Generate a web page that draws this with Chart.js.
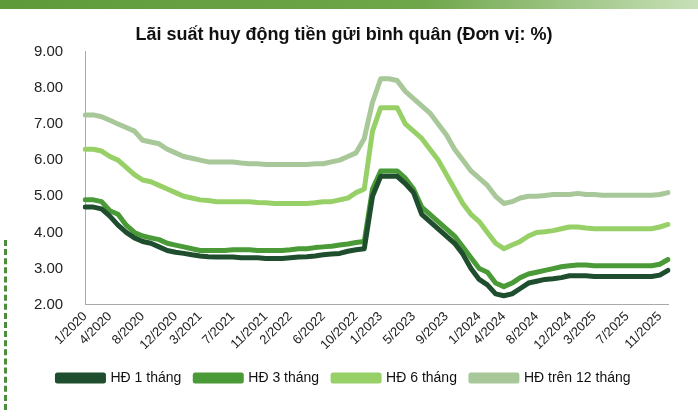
<!DOCTYPE html>
<html><head><meta charset="utf-8">
<script src="https://cdn.jsdelivr.net/npm/chart.js@4"></script>
<style>
body{margin:0;width:698px;height:419px;background:#fff;overflow:hidden;position:relative;font-family:Arial,"Liberation Sans",sans-serif}
#bar{position:absolute;left:0;top:0;width:698px;height:9px;background:linear-gradient(90deg,#5e9a3a,#6ea64a 60%,#c8e0b8)}
#dash{position:absolute;left:4px;top:240px;height:170px;border-left:3px dashed #4c8c3c}
#wrap{position:absolute;left:0;top:22px;width:698px;height:397px}
</style></head><body>
<div id="bar"></div><div id="dash"></div>
<div id="wrap"><canvas id="c"></canvas></div>
<script>
const months=[];for(let y=2020;y<=2025;y++)for(let m=1;m<=12;m++)months.push(m+'/'+y);
const tickLabels=['1/2020','4/2020','8/2020','12/2020','3/2021','7/2021','11/2021','2/2022','6/2022','10/2022','1/2023','5/2023','9/2023','1/2024','4/2024','8/2024','12/2024','3/2025','7/2025','11/2025'];
const hd1=[4.7,4.7,4.65,4.45,4.2,4.0,3.85,3.75,3.7,3.6,3.5,3.45,
3.42,3.38,3.35,3.33,3.32,3.32,3.32,3.3,3.3,3.3,3.28,3.28,
3.28,3.3,3.32,3.33,3.35,3.38,3.4,3.42,3.48,3.52,3.55,5.0,
5.55,5.55,5.55,5.35,5.1,4.5,4.3,4.1,3.9,3.7,3.4,3.0,
2.7,2.55,2.3,2.25,2.3,2.45,2.6,2.65,2.7,2.72,2.75,2.8,
2.8,2.8,2.78,2.78,2.78,2.78,2.78,2.78,2.78,2.78,2.82,2.95];
const hd3=[4.9,4.9,4.85,4.6,4.5,4.2,4.0,3.9,3.85,3.8,3.7,3.65,
3.6,3.55,3.5,3.5,3.5,3.5,3.52,3.52,3.52,3.5,3.5,3.5,
3.5,3.52,3.55,3.55,3.58,3.6,3.62,3.65,3.68,3.72,3.75,5.2,
5.7,5.7,5.7,5.5,5.2,4.7,4.5,4.3,4.1,3.9,3.6,3.3,
3.0,2.9,2.6,2.5,2.6,2.75,2.85,2.9,2.95,3.0,3.05,3.08,
3.1,3.1,3.08,3.08,3.08,3.08,3.08,3.08,3.08,3.08,3.12,3.25];
const hd6=[6.3,6.3,6.25,6.1,6.0,5.8,5.6,5.45,5.4,5.3,5.2,5.1,
5.0,4.95,4.9,4.88,4.85,4.85,4.85,4.85,4.85,4.83,4.82,4.8,
4.8,4.8,4.8,4.8,4.82,4.85,4.85,4.9,4.95,5.1,5.2,6.8,
7.45,7.45,7.45,7.0,6.8,6.6,6.3,6.0,5.6,5.2,4.8,4.5,
4.3,4.0,3.7,3.55,3.65,3.75,3.9,4.0,4.02,4.05,4.1,4.15,
4.15,4.12,4.1,4.1,4.1,4.1,4.1,4.1,4.1,4.1,4.15,4.22];
const hd12=[7.25,7.25,7.2,7.1,7.0,6.9,6.8,6.55,6.5,6.45,6.3,6.2,
6.1,6.05,6.0,5.95,5.95,5.95,5.95,5.92,5.9,5.9,5.88,5.88,
5.88,5.88,5.88,5.88,5.9,5.9,5.95,6.0,6.1,6.2,6.6,7.6,
8.25,8.25,8.2,7.9,7.7,7.5,7.3,7.0,6.7,6.3,6.0,5.7,
5.5,5.3,5.0,4.8,4.85,4.95,5.0,5.0,5.02,5.05,5.05,5.05,
5.08,5.05,5.05,5.03,5.03,5.03,5.03,5.03,5.03,5.03,5.05,5.1];
const names=['HĐ 1 tháng','HĐ 3 tháng','HĐ 6 tháng','HĐ trên 12 tháng'];
const colors=['#1f4e2e','#4a9a38','#98d068','#a9c89a'];
const series=[hd1,hd3,hd6,hd12];
new Chart(document.getElementById('c'),{type:'line',
data:{labels:months,datasets:series.map((d,i)=>({label:names[i],data:d,borderColor:colors[i],backgroundColor:colors[i],borderWidth:5,pointRadius:0,borderJoinStyle:'round',borderCapStyle:'round',order:i}))},
options:{responsive:true,maintainAspectRatio:false,animation:false,
layout:{padding:{left:20,right:30,top:0,bottom:24}},
plugins:{title:{display:true,text:'Lãi suất huy động tiền gửi bình quân (Đơn vị: %)',color:'#111',font:{size:18,weight:'bold',family:'Arial'},padding:{top:2,bottom:6}},
legend:{position:'bottom',labels:{boxWidth:46,boxHeight:6,color:'#111',font:{size:14,family:'Arial'},padding:14}},tooltip:{enabled:false}},
scales:{x:{grid:{display:false,drawTicks:false},border:{color:'#aaa'},
ticks:{autoSkip:false,maxRotation:45,minRotation:45,color:'#222',font:{size:13,family:'Arial'},padding:4,callback:function(v){const l=this.getLabelForValue(v);return tickLabels.includes(l)?l:null;}}},
y:{min:2,max:9,grid:{display:false},border:{color:'#aaa'},ticks:{stepSize:1,color:'#222',font:{size:15,family:'Arial'},padding:14,callback:v=>v.toFixed(2)}}}}});
</script></body></html>
